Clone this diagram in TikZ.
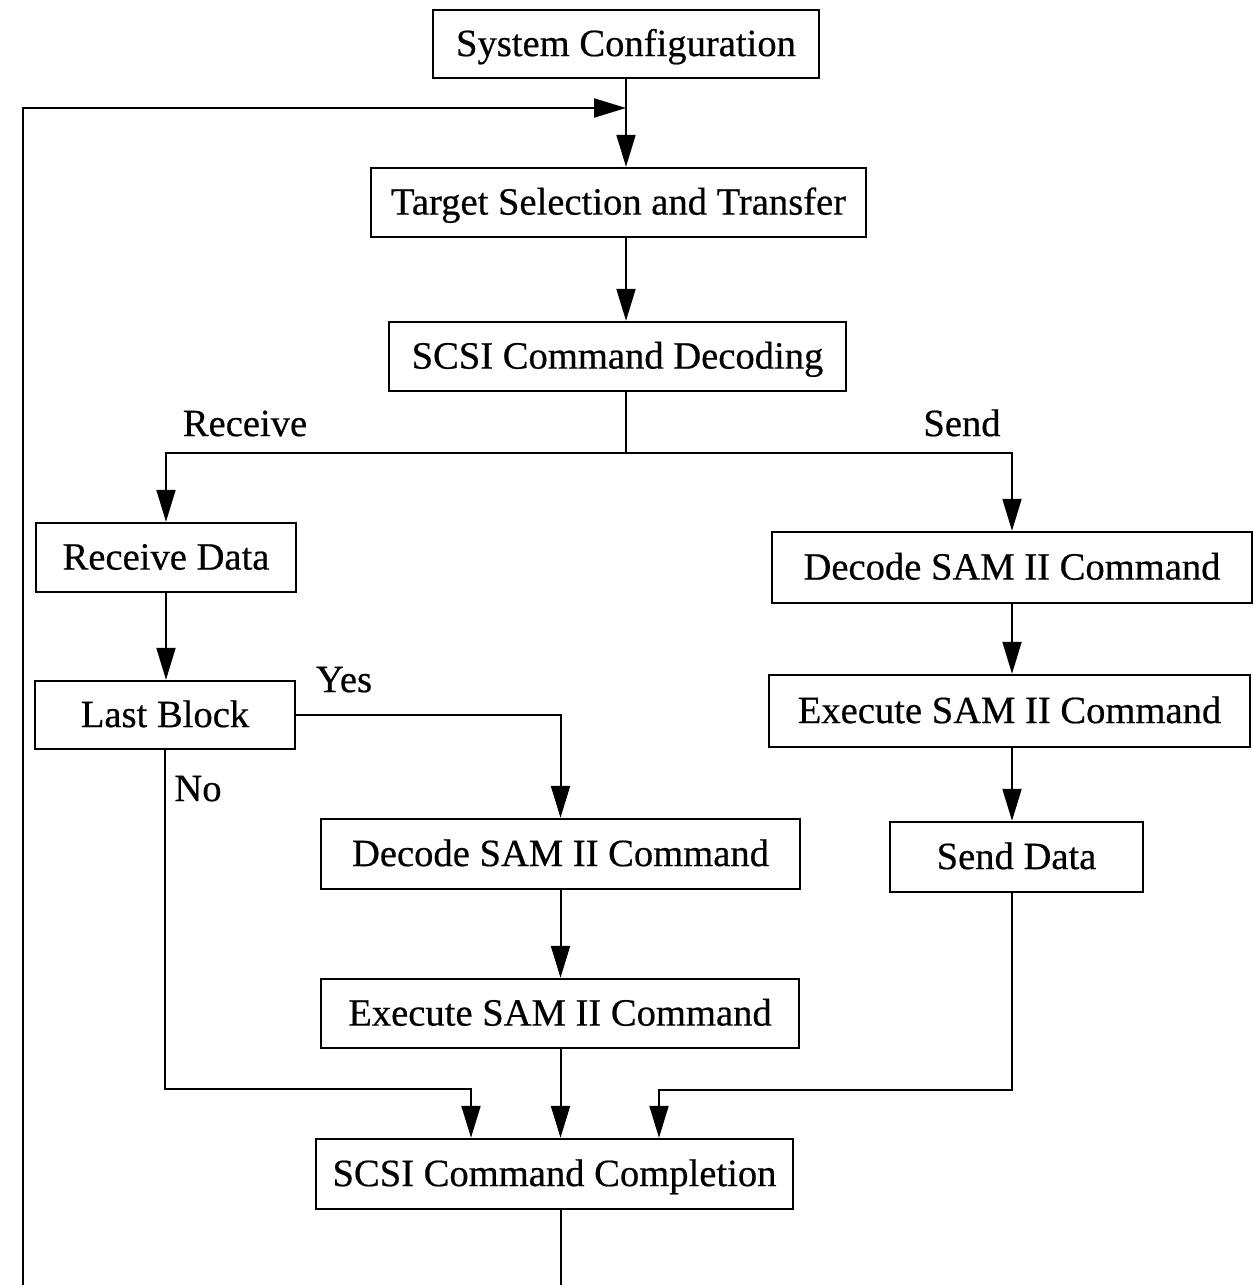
\documentclass[tikz,border=0pt]{standalone}
\usepackage{fontspec}
\setmainfont[FakeBold=0.5]{Liberation Serif}
\usetikzlibrary{arrows.meta}
\begin{document}
\begin{tikzpicture}[x=0.5pt,y=-0.5pt,
  box/.style={draw, line width=1.2pt, inner sep=0pt, align=center,
    text height=12.7pt, text depth=0.6pt,
    font=\fontsize{19.3pt}{23pt}\selectfont},
  lbl/.style={inner sep=0pt, text height=12.7pt, text depth=0.6pt,
    font=\fontsize{19.3pt}{23pt}\selectfont},
  wire/.style={line width=1pt},
  arr/.style={wire, -{Triangle[length=16pt,width=9.5pt]}}]
\useasboundingbox (0,0) rectangle (1253,1285);

% process boxes
\node[box, minimum width=193pt,   minimum height=34pt]   (sys)  at (626,44)     {System Configuration};
\node[box, minimum width=247.5pt, minimum height=34.5pt] (tgt)  at (618.5,202.5) {Target Selection and Transfer};
\node[box, minimum width=228.5pt, minimum height=34.5pt] (dec)  at (617.5,356.5) {SCSI Command Decoding};
\node[box, minimum width=130pt,   minimum height=34.5pt] (rcv)  at (166,557.5)  {Receive Data};
\node[box, minimum width=130pt,   minimum height=34pt]   (last) at (165,715)    {Last Block};
\node[box, minimum width=239.5pt, minimum height=35pt]   (decL) at (560.5,854)  {Decode SAM II Command};
\node[box, minimum width=239pt,   minimum height=34.5pt] (exeL) at (560,1013.5) {Execute SAM II Command};
\node[box, minimum width=238.5pt, minimum height=35pt]   (comp) at (554.5,1174) {SCSI Command Completion};
\node[box, minimum width=240pt,   minimum height=35.5pt] (decR) at (1012,567.5) {Decode SAM II Command};
\node[box, minimum width=240.5pt, minimum height=36pt]   (exeR) at (1009.5,711) {Execute SAM II Command};
\node[box, minimum width=126.5pt, minimum height=35pt]   (send) at (1016.5,857) {Send Data};

% branch labels
\node[lbl] (lrcv) at (245,424) {Receive};
\node[lbl] (lsnd) at (962,424) {Send};
\node[lbl] (lyes) at (344,680) {Yes};
\node[lbl] (lno)  at (198,789) {No};

% junction and bend points
\coordinate (join)  at (626,108);
\coordinate (split) at (626,453);
\coordinate (inL)   at (471,1089);
\coordinate (inR)   at (659,1090);
\coordinate (loopT) at (23,108);
\coordinate (loopL) at (23,1285);
\coordinate (loopB) at (561,1285);

% main spine
\draw[wire] (sys.south) -- (join);
\draw[arr] (join) -- (join |- tgt.north);
\draw[arr] (join |- tgt.south) -- (join |- dec.north);
\draw[wire] (join |- dec.south) -- (split);

% receive / send split
\draw[arr] (split) -| (rcv.north);
\draw[arr] (split) -| (decR.north);

% receive branch
\draw[arr] (rcv.south) -- (rcv.south |- last.north);
\draw[arr] (last.east) -| (decL.north);
\draw[arr] (decL.south) -- (decL.south |- exeL.north);
\draw[arr] (decL.south |- exeL.south) -- (decL.south |- comp.north);
\draw[arr] (last.south) |- (inL) -- (inL |- comp.north);

% send branch
\draw[arr] (decR.south) -- (decR.south |- exeR.north);
\draw[arr] (decR.south |- exeR.south) -- (decR.south |- send.north);
\draw[arr] (decR.south |- send.south) |- (inR) -- (inR |- comp.north);

% return loop
\draw[wire] (decL.south |- comp.south) -- (decL.south |- loopB);
\draw[arr] (loopL) -- (loopT) -- (join);
\end{tikzpicture}
\end{document}
